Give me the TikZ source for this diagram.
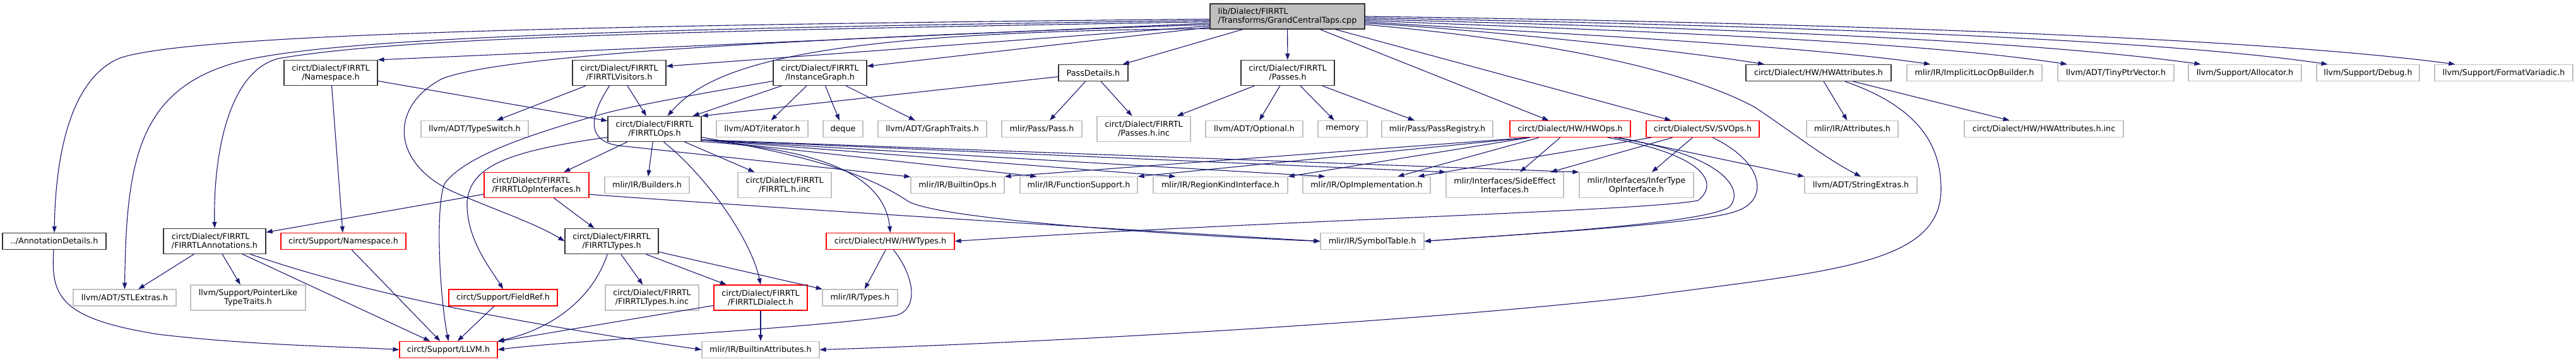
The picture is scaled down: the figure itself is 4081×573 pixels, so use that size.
\documentclass[tikz,border=0pt]{standalone}
\usepackage{fontspec}
\setmainfont{DejaVu Sans}
\usetikzlibrary{arrows.meta}
\definecolor{edgeblue}{HTML}{191970}
\definecolor{grey75}{HTML}{BFBFBF}

\begin{document}
\begin{tikzpicture}[x=1pt,y=-1pt,>={Triangle[length=10pt,width=7pt]},
 font=\fontsize{12.75}{14}\selectfont,
 doc/.style={draw=black!80,line width=1.2pt,fill=white,inner xsep=3pt,inner ysep=1pt,minimum height=26pt,align=center},
 ext/.style={doc,draw=grey75},
 trunc/.style={doc,draw=red},
 tall/.style={minimum height=40pt},
 dep/.style={->,draw=edgeblue,line width=1.1pt}]
\fill[white] (0,0) rectangle (4081,573);
\useasboundingbox (0,0) rectangle (4081,573);

\node[doc,tall,fill=grey75,align=left,minimum width=245pt] (root) at (2039.5,26) {lib/Dialect/FIRRTL\\/Transforms/GrandCentralTaps.cpp};

\node[doc,tall,minimum width=148pt] (ns) at (524,115.5) {circt/Dialect/FIRRTL\\/Namespace.h};
\node[doc,tall,minimum width=148pt] (vis) at (981,115.5) {circt/Dialect/FIRRTL\\/FIRRTLVisitors.h};
\node[doc,tall,minimum width=148pt] (ig) at (1299,115.5) {circt/Dialect/FIRRTL\\/InstanceGraph.h};
\node[doc,minimum width=110pt] (pd) at (1732,115.5) {PassDetails.h};
\node[doc,tall,minimum width=148pt] (passes) at (2040,115.5) {circt/Dialect/FIRRTL\\/Passes.h};
\node[doc,minimum width=230pt] (hwattr) at (2881,115.5) {circt/Dialect/HW/HWAttributes.h};
\node[ext,minimum width=214pt] (implicit) at (3128,115.5) {mlir/IR/ImplicitLocOpBuilder.h};
\node[ext,minimum width=184pt] (tiny) at (3352,115.5) {llvm/ADT/TinyPtrVector.h};
\node[ext,minimum width=179pt] (alloc) at (3556.5,115.5) {llvm/Support/Allocator.h};
\node[ext,minimum width=163pt] (debug) at (3751.5,115.5) {llvm/Support/Debug.h};
\node[ext,minimum width=219pt] (fmt) at (3966.5,115.5) {llvm/Support/FormatVariadic.h};

\node[ext,minimum width=170pt] (typeswitch) at (752,204.5) {llvm/ADT/TypeSwitch.h};
\node[doc,tall,minimum width=148pt] (ops) at (1037,204.5) {circt/Dialect/FIRRTL\\/FIRRTLOps.h};
\node[ext,minimum width=145pt] (iterator) at (1207.5,204.5) {llvm/ADT/iterator.h};
\node[ext,minimum width=63pt] (deque) at (1335.5,204.5) {deque};
\node[ext,minimum width=172pt] (graphtraits) at (1477,204.5) {llvm/ADT/GraphTraits.h};
\node[ext,minimum width=127pt] (pass) at (1650.5,204.5) {mlir/Pass/Pass.h};
\node[ext,tall,minimum width=148pt] (passesinc) at (1812,204.5) {circt/Dialect/FIRRTL\\/Passes.h.inc};
\node[ext,minimum width=154pt] (optional) at (1987,204.5) {llvm/ADT/Optional.h};
\node[ext,minimum width=78pt] (memory) at (2127,204.5) {memory};
\node[ext,minimum width=176pt] (passreg) at (2277,204.5) {mlir/Pass/PassRegistry.h};
\node[trunc,minimum width=191pt] (hwops) at (2487.5,204.5) {circt/Dialect/HW/HWOps.h};
\node[trunc,minimum width=179pt] (svops) at (2697.5,204.5) {circt/Dialect/SV/SVOps.h};
\node[ext,minimum width=145pt] (attrs) at (2934.5,204.5) {mlir/IR/Attributes.h};
\node[ext,minimum width=252pt] (hwattrinc) at (3238,204.5) {circt/Dialect/HW/HWAttributes.h.inc};

\node[trunc,tall,align=left,minimum width=166pt] (opiface) at (850,293.5) {circt/Dialect/FIRRTL\\/FIRRTLOpInterfaces.h};
\node[ext,minimum width=134pt] (builders) at (1025,293.5) {mlir/IR/Builders.h};
\node[ext,tall,minimum width=148pt] (firrtlinc) at (1243,293.5) {circt/Dialect/FIRRTL\\/FIRRTL.h.inc};
\node[ext,minimum width=148pt] (builtinops) at (1517,293.5) {mlir/IR/BuiltinOps.h};
\node[ext,minimum width=186pt] (funcsupport) at (1709,293.5) {mlir/IR/FunctionSupport.h};
\node[ext,minimum width=213pt] (regionkind) at (1933.5,293.5) {mlir/IR/RegionKindInterface.h};
\node[ext,minimum width=202pt] (opimpl) at (2165,293.5) {mlir/IR/OpImplementation.h};
\node[ext,tall,minimum width=186pt] (sideeffect) at (2384,293.5) {mlir/Interfaces/SideEffect\\Interfaces.h};
\node[ext,tall,minimum width=181pt] (infertype) at (2592.5,293.5) {mlir/Interfaces/InferType\\OpInterface.h};
\node[ext,minimum width=178pt] (stringextras) at (2948,293.5) {llvm/ADT/StringExtras.h};

\node[doc,minimum width=164pt] (anndet) at (86,382.5) {../AnnotationDetails.h};
\node[doc,tall,align=left,minimum width=162pt] (ann) at (340,382.5) {circt/Dialect/FIRRTL\\/FIRRTLAnnotations.h};
\node[trunc,minimum width=198pt] (supns) at (544,382.5) {circt/Support/Namespace.h};
\node[doc,tall,minimum width=148pt] (types) at (969,382.5) {circt/Dialect/FIRRTL\\/FIRRTLTypes.h};
\node[trunc,minimum width=203pt] (hwtypes) at (1410.5,382.5) {circt/Dialect/HW/HWTypes.h};
\node[ext,minimum width=164pt] (symtab) at (2174,382.5) {mlir/IR/SymbolTable.h};

\node[ext,minimum width=163pt] (stlextras) at (197.5,472) {llvm/ADT/STLExtras.h};
\node[ext,tall,minimum width=182pt] (pointerlike) at (393,472) {llvm/Support/PointerLike\\TypeTraits.h};
\node[trunc,minimum width=172pt] (fieldref) at (797,472) {circt/Support/FieldRef.h};
\node[ext,tall,minimum width=148pt] (typesinc) at (1033,472) {circt/Dialect/FIRRTL\\/FIRRTLTypes.h.inc};
\node[trunc,tall,minimum width=148pt] (dialect) at (1205,472) {circt/Dialect/FIRRTL\\/FIRRTLDialect.h};
\node[ext,minimum width=119pt] (mlirtypes) at (1362.5,472) {mlir/IR/Types.h};

\node[trunc,minimum width=155pt] (llvm) at (710.5,554.5) {circt/Support/LLVM.h};
\node[ext,minimum width=186pt] (builtinattr) at (1205,554.5) {mlir/IR/BuiltinAttributes.h};

% the .cpp file
\draw[dep] (root.182) .. controls (900,40) and (300,55) .. (190,92) .. controls (110,125) and (88,250) .. (anndet.north);
\draw[dep] (root.183) .. controls (1000,45) and (550,60) .. (390,95) .. controls (220,135) and (200,250) .. (stlextras.north);
\draw[dep] (root.184) .. controls (1000,50) and (620,62) .. (440,93) .. controls (360,115) and (338,250) .. (ann.north);
\draw[dep] (root.185) -- (ns.north east);
\draw[dep] (root.186) .. controls (1300,60) and (800,85) .. (700,125) .. controls (615,170) and (620,260) .. (720,305) .. controls (790,335) and (850,355) .. (types.west);
\draw[dep] (root.187) -- (vis.8);
\draw[dep] (root.188) -- (ig.8);
\draw[dep] (root.189) .. controls (1300,50) and (1130,100) .. (ops.45);
\draw[dep] (root) -- (pd);
\draw[dep] (root) -- (passes);
\draw[dep] (root) -- (hwops);
\draw[dep] (root) -- (svops);
\draw[dep] (root.-6) .. controls (2400,60) and (2650,100) .. (2780,170) .. controls (2840,210) and (2890,250) .. (stringextras.north);
\draw[dep] (root.-5) .. controls (2320,45) and (2640,77) .. (hwattr.171);
\draw[dep] (root.-4) .. controls (2400,50) and (2840,70) .. (implicit.169);
\draw[dep] (root.-3) .. controls (2450,45) and (3000,60) .. (tiny.170);
\draw[dep] (root.-2) .. controls (2500,40) and (3150,55) .. (alloc.169);
\draw[dep] (root.-1) .. controls (2550,36) and (3350,52) .. (debug.168);
\draw[dep] (root.0) .. controls (2600,32) and (3500,50) .. (fmt.170);

\draw[dep] (ns) -- (supns);
\draw[dep] (ns) -- (ops);
\draw[dep] (vis) -- (typeswitch);
\draw[dep] (vis) -- (ops);
\draw[dep] (vis.233) .. controls (930,190) and (930,228) .. (990,232) -- (builtinops.170);
\draw[dep] (ig) -- (ops);
\draw[dep] (ig) -- (iterator);
\draw[dep] (ig) -- (deque);
\draw[dep] (ig) -- (graphtraits);
\draw[dep] (ig.190) .. controls (1100,150) and (990,170) .. (950,182) .. controls (850,210) and (740,245) .. (705,290) .. controls (690,320) and (695,460) .. (llvm.north);
\draw[dep] (pd) -- (ops.north east);
\draw[dep] (pd) -- (pass);
\draw[dep] (pd) -- (passesinc);
\draw[dep] (passes) -- (passesinc);
\draw[dep] (passes) -- (optional);
\draw[dep] (passes) -- (memory);
\draw[dep] (passes) -- (passreg);
\draw[dep] (hwattr) -- (attrs);
\draw[dep] (hwattr) -- (hwattrinc);
\draw[dep] (hwattr.-18) .. controls (3040,170) and (3075,230) .. (3075,300) .. controls (3075,420) and (2900,430) .. (2600,470) .. controls (2200,515) and (1600,545) .. (builtinattr.east);

% FIRRTLOps.h
\draw[dep] (ops) -- (opiface);
\draw[dep] (ops) -- (builders);
\draw[dep] (ops) -- (firrtlinc);
\draw[dep] (ops.-55) .. controls (1120,280) and (1190,380) .. (dialect.north);
\draw[dep] (ops.-15) .. controls (1280,235) and (1400,270) .. (hwtypes.north);
\draw[dep] (ops.190) .. controls (800,240) and (745,265) .. (740,320) .. controls (738,380) and (780,430) .. (fieldref.north);
\draw[dep] (ops.-13) -- ([xshift=27pt]funcsupport.north west);
\draw[dep] (ops.-13) -- ([xshift=36pt]regionkind.north west);
\draw[dep] (ops.-13) -- ([xshift=36pt]opimpl.north west);
\draw[dep] (ops.-13) -- (sideeffect.north west);
\draw[dep] (ops.-13) -- (infertype.north west);
\draw[dep] (ops.-10) .. controls (1300,250) and (1380,280) .. (1440,320) .. controls (1500,350) and (1900,375) .. (symtab.west);

\draw[dep] (opiface) -- (types);
\draw[dep] (opiface) -- (ann);
\draw[dep] (opiface.-10) .. controls (1300,335) and (1800,365) .. (symtab.west);
\draw[dep] (types) .. controls (940,470) and (880,520) .. (llvm.north east);
\draw[dep] (types) -- (typesinc);
\draw[dep] (types) -- (dialect);
\draw[dep] (types) -- (mlirtypes);
\draw[dep] (dialect) -- (llvm);
\draw[dep] (dialect) -- (builtinattr);
\draw[dep] (fieldref) -- (llvm);
\draw[dep] (ann) -- (stlextras);
\draw[dep] (ann) -- (pointerlike);
\draw[dep] (ann) -- (llvm);
\draw[dep] (ann.-20) .. controls (520,445) and (700,495) .. (builtinattr.west);
\draw[dep] (supns) -- (llvm);
\draw[dep] (anndet) .. controls (80,470) and (95,505) .. (250,530) .. controls (400,548) and (560,550) .. (llvm.west);

% HW / SV
\draw[dep] (hwops.192) -- (builtinops.north east);
\draw[dep] (hwops.192) -- (funcsupport.north east);
\draw[dep] (hwops.192) -- (regionkind.north east);
\draw[dep] (hwops) -- (opimpl);
\draw[dep] (hwops) -- (sideeffect);
\draw[dep] (hwops.-10) -- (stringextras.north west);
\draw[dep] (hwops.-13) .. controls (2700,245) and (2725,290) .. (2690,318) .. controls (2600,335) and (2000,350) .. (hwtypes.east);
\draw[dep] (hwops.-11) .. controls (2730,245) and (2765,300) .. (2740,328) .. controls (2700,355) and (2400,372) .. (symtab.east);
\draw[dep] (svops) -- (opimpl);
\draw[dep] (svops) -- (sideeffect);
\draw[dep] (svops) -- (infertype);
\draw[dep] (svops.-41) .. controls (2800,260) and (2800,320) .. (2750,335) .. controls (2700,355) and (2400,372) .. (symtab.east);
\draw[dep] (hwtypes) -- (mlirtypes);
\draw[dep] (hwtypes.-70) .. controls (1450,440) and (1455,490) .. (1420,500) .. controls (1300,520) and (900,540) .. (llvm.east);
\end{tikzpicture}
\end{document}
